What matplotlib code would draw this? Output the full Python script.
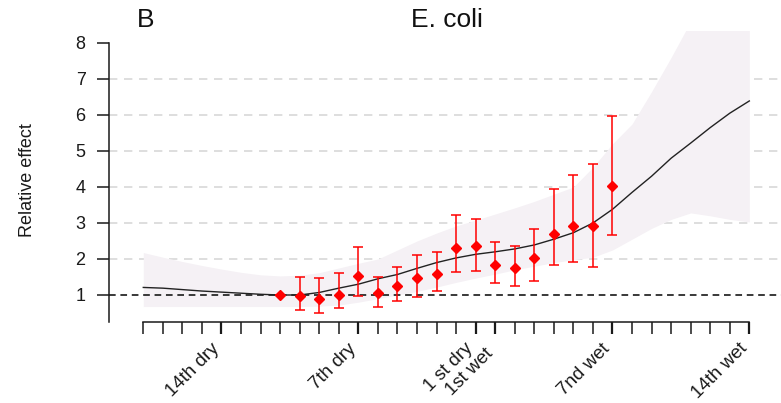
import matplotlib
matplotlib.use("Agg")
import matplotlib.pyplot as plt
from matplotlib.transforms import ScaledTranslation
import numpy as np

plt.rcParams["font.family"] = ["Liberation Sans", "DejaVu Sans"]
plt.rcParams["lines.scale_dashes"] = False

# Day positions along the dry/wet timeline (0..31)
day_pos = list(range(32))
tick_label_pos = [4, 11, 17, 18, 24, 31]
tick_labels = ["14th dry", "7th dry", "1 st dry", "1st wet", "7nd wet", "14th wet"]

# Fitted relative effect and its confidence band
fit_effect = [1.21, 1.19, 1.15, 1.11, 1.08, 1.05, 1.02, 1.00, 1.00, 1.07,
              1.19, 1.30, 1.45, 1.57, 1.74, 1.90, 2.03, 2.13, 2.20, 2.28,
              2.39, 2.55, 2.73, 3.00, 3.38, 3.85, 4.30, 4.80, 5.22, 5.65,
              6.05, 6.39]
band_upper = [2.18, 2.05, 1.93, 1.82, 1.72, 1.63, 1.56, 1.53, 1.55, 1.62,
              1.75, 1.88, 2.00, 2.25, 2.50, 2.72, 2.92, 3.08, 3.25, 3.42,
              3.60, 3.80, 4.00, 4.55, 5.20, 5.75, 6.65, 7.60, 8.60, 9.50,
              9.80, 10.0]
band_lower = [0.68, 0.68, 0.68, 0.68, 0.68, 0.68, 0.68, 0.68, 0.68, 0.69,
              0.72, 0.80, 0.90, 1.00, 1.10, 1.22, 1.35, 1.47, 1.58, 1.70,
              1.80, 1.90, 1.98, 2.05, 2.25, 2.55, 2.85, 3.10, 3.28, 3.20,
              3.10, 3.03]

# Observed estimates with intervals
obs_pos = [7, 8, 9, 10, 11, 12, 13, 14, 15, 16, 17, 18, 19, 20, 21, 22, 23, 24]
obs_effect = [1.00, 0.97, 0.88, 1.00, 1.54, 1.05, 1.25, 1.46, 1.59, 2.30,
              2.35, 1.82, 1.75, 2.03, 2.70, 2.91, 2.91, 4.02]
obs_lower = [1.00, 0.59, 0.51, 0.64, 0.98, 0.67, 0.82, 0.94, 1.12, 1.63,
             1.68, 1.32, 1.24, 1.40, 1.84, 1.91, 1.79, 2.68]
obs_upper = [1.00, 1.51, 1.46, 1.60, 2.32, 1.50, 1.79, 2.12, 2.19, 3.21,
             3.11, 2.48, 2.36, 2.84, 3.95, 4.32, 4.64, 5.96]

W, H = 781, 403
fig = plt.figure(figsize=(W / 100, H / 100), dpi=100)
ax = fig.add_axes([109 / W, (H - 322.3) / H, (W - 109) / W, (322.3 - 31) / H])

x_lo, x_hi = -1.754, 32.62
y_lo, y_hi = 0.2417, 8.333
ax.set_xlim(x_lo, x_hi)
ax.set_ylim(y_lo, y_hi)

# grey reference lines under the band
for g in [2, 3, 4, 5, 6, 7]:
    ax.axhline(g, color="#d4d4d4", lw=1.1, dashes=(6.0, 4.8), zorder=0.5)

ax.fill_between(day_pos, band_lower, band_upper, color="#f5f1f5",
                lw=0, zorder=1)
ax.axhline(1, color="#2a2a2a", lw=1.3, dashes=(4.8, 3.4), zorder=2)
ax.plot(day_pos, fit_effect, color="#222222", lw=1.0, zorder=3)

obs_effect_a = np.array(obs_effect)
yerr = [obs_effect_a - np.array(obs_lower), np.array(obs_upper) - obs_effect_a]
ax.errorbar(obs_pos, obs_effect, yerr=yerr, fmt="D", color="#ff0000",
            ms=5.6, elinewidth=1.1, capsize=3.7, capthick=1.1, zorder=4)

# axes styling
for s in ["top", "right"]:
    ax.spines[s].set_visible(False)
ax.spines["left"].set_bounds(y_lo, 8)
ax.spines["bottom"].set_bounds(0, 31)
for s in ["left", "bottom"]:
    ax.spines[s].set_linewidth(1.1)
    ax.spines[s].set_color("#1a1a1a")

ax.set_yticks(range(1, 9))
ax.tick_params(axis="y", length=8.5, width=1.1, pad=8.4, labelsize=13,
               color="#1a1a1a", labelcolor="#1a1a1a")

ax.set_xticks(tick_label_pos, labels=[""] * len(tick_label_pos))
ax.set_xticks(day_pos, minor=True)
ax.tick_params(axis="x", which="major", length=8.3, width=1.6,
               color="#1a1a1a")
ax.tick_params(axis="x", which="minor", length=8.3, width=1.1,
               color="#1a1a1a")

# rotated day labels, anchored at their right end just below the ticks
label_nudge = {"1st wet": -0.045}
for pos, txt in zip(tick_label_pos, tick_labels):
    dy = -0.238 + label_nudge.get(txt, 0.0)
    tr = ax.get_xaxis_transform() + ScaledTranslation(-0.05, dy, fig.dpi_scale_trans)
    ax.text(pos, 0, txt, transform=tr, rotation=45, ha="right", va="center",
            rotation_mode="anchor", fontsize=13.5, color="#1a1a1a", clip_on=False)

ax.set_ylabel("Relative effect", fontsize=13, color="#1a1a1a")
ax.yaxis.set_label_coords((36 - 109) / (W - 109), (322.3 - 180) / (322.3 - 31))

fig.text(447 / W, 1 - 27 / H, "E. coli", fontsize=19, ha="center",
         va="baseline", color="#111111")
fig.text(137 / W, 1 - 27 / H, "B", fontsize=19, ha="left",
         va="baseline", color="#111111")

fig.savefig("out.png", dpi=100)
